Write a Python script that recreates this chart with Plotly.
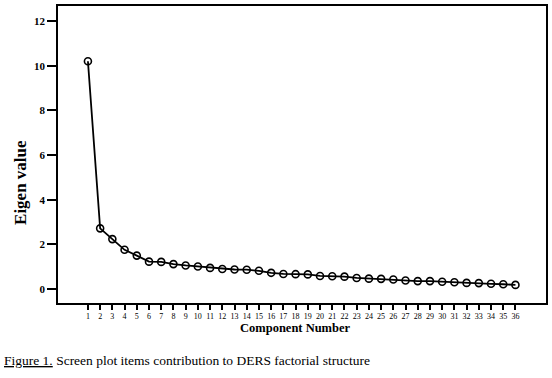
import plotly.graph_objects as go

components = list(range(1, 37))
eigenvalues = [10.2, 2.72, 2.24, 1.76, 1.50, 1.23, 1.22, 1.12, 1.06, 1.01,
               0.95, 0.90, 0.88, 0.87, 0.82, 0.73, 0.68, 0.67, 0.66, 0.59,
               0.58, 0.56, 0.50, 0.47, 0.46, 0.43, 0.39, 0.36, 0.36, 0.33,
               0.31, 0.28, 0.27, 0.24, 0.22, 0.19]
y_ticks = [0, 2, 4, 6, 8, 10, 12]

serif = "Liberation Serif, Times New Roman, serif"

fig = go.Figure(go.Scatter(
    x=components, y=eigenvalues, mode="lines+markers",
    line=dict(color="black", width=1.8),
    marker=dict(symbol="circle-open", size=7, color="black",
                line=dict(color="black", width=1.6)),
    showlegend=False))

L, R, T, B = 58, 4, 4, 75
W, H = 552, 378
pw, ph = W - L - R, H - T - B

def px(x):
    return (x - L) / pw

def py(y):
    return (H - B - y) / ph

fig.update_layout(
    width=W, height=H,
    margin=dict(l=L, r=R, t=T, b=B),
    paper_bgcolor="white", plot_bgcolor="white",
    font=dict(family=serif, color="black"),
    xaxis=dict(range=[-1.45, 38.5], tickmode="array", tickvals=components,
               ticktext=[str(c) for c in components],
               ticks="outside", ticklen=5, tickwidth=1.5, tickcolor="black",
               tickfont=dict(size=8, family=serif, color="black"),
               showline=True, linecolor="black", linewidth=1.5, mirror=True,
               showgrid=False, zeroline=False),
    yaxis=dict(range=[-0.62, 12.67], tickmode="array", tickvals=y_ticks,
               ticktext=[f"<b>{v}</b>" for v in y_ticks],
               ticks="outside", ticklen=9, tickwidth=1.5, tickcolor="black",
               tickfont=dict(size=11, family=serif),
               showline=True, linecolor="black", linewidth=1.8, mirror=True,
               showgrid=False, zeroline=False),
    annotations=[
        dict(text="<b>Eigen value</b>", x=px(21), y=py(182), xref="paper", yref="paper",
             textangle=-90, showarrow=False, font=dict(size=17, family=serif),
             xanchor="center", yanchor="middle"),
        dict(text="<b>Component Number</b>", x=px(296), y=py(328), xref="paper", yref="paper",
             showarrow=False, font=dict(size=12.5, family=serif),
             xanchor="center", yanchor="middle"),
        dict(text="<u>Figure 1.</u> Screen plot items contribution to DERS factorial structure",
             x=px(2), y=py(361), xref="paper", yref="paper",
             showarrow=False, font=dict(size=13.5, family=serif),
             xanchor="left", yanchor="middle"),
    ],
)

fig.write_html("out.html", config={"displayModeBar": False},
               post_script="document.body.style.margin='0';document.body.style.padding='0';")
